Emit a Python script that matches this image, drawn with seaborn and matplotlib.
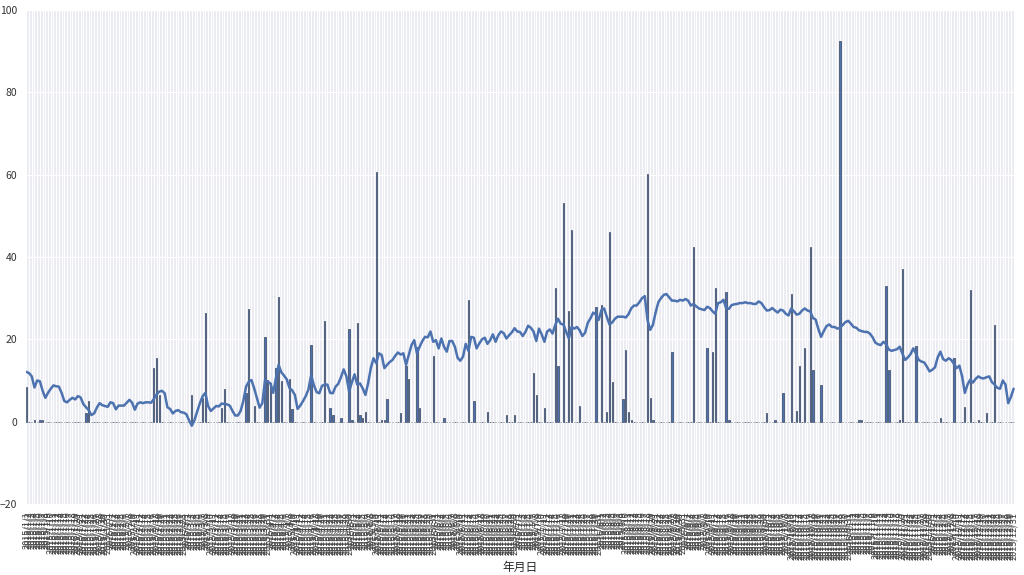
import matplotlib
matplotlib.use("Agg")
import matplotlib.pyplot as plt
import numpy as np
import pandas as pd
import seaborn as sns

# 日平均気温 (月ごと)
temp_jan = [12.1, 11.8, 11.0, 8.3, 10.0, 9.8, 7.5, 5.8, 7.0, 8.0, 8.8, 8.6, 8.5, 7.0, 5.0, 4.7,
            5.3, 5.8, 5.4, 6.2, 5.9, 4.3, 3.5, 2.8, 1.6, 2.0, 3.4, 4.5, 4.0, 3.8, 3.6]
temp_feb = [4.7, 4.5, 3.0, 3.9, 3.9, 3.9, 4.6, 5.3, 4.6, 2.9, 4.4, 4.7, 4.5, 4.7, 4.7, 4.6,
            5.5, 6.6, 7.3, 7.5, 6.9, 3.5, 3.1, 2.0, 2.6, 2.8, 2.3, 2.2]
temp_mar = [1.8, 0.3, -1.0, 0.4, 2.5, 4.5, 6.2, 7.0, 3.8, 2.6, 3.2, 3.8, 3.7, 4.4, 4.3, 4.2,
            3.9, 2.6, 1.5, 1.5, 2.6, 5.0, 8.5, 9.7, 10.1, 8.1, 5.7, 3.4, 4.5, 10.1, 9.7]
temp_apr = [9.3, 7.0, 10.5, 13.8, 12.0, 11.2, 10.3, 8.2, 7.6, 6.5, 3.1, 3.9, 5.0, 6.2, 7.8,
            11.3, 8.9, 7.2, 6.9, 8.7, 9.0, 9.0, 7.0, 6.9, 8.5, 9.2, 10.8, 12.7, 11.0, 7.3]
temp_may = [9.5, 11.5, 9.0, 9.3, 8.1, 6.5, 9.3, 13.0, 15.4, 14.2, 16.6, 16.2, 13.0, 13.8, 14.5,
            15.0, 16.0, 16.8, 16.3, 16.6, 13.8, 16.2, 18.6, 19.8, 16.6, 18.2, 19.6, 20.6, 20.5,
            21.9, 19.4]
temp_jun = [19.8, 17.8, 20.2, 18.2, 17.0, 19.6, 19.6, 18.2, 15.5, 14.8, 15.8, 18.9, 17.2, 20.6,
            20.4, 17.8, 19.0, 20.0, 20.4, 18.9, 19.8, 21.2, 19.4, 21.0, 21.9, 21.5, 20.2, 21.0,
            21.7, 22.7]
temp_jul = [21.9, 21.8, 20.8, 21.8, 23.3, 22.8, 21.9, 19.6, 22.6, 21.2, 19.4, 21.9, 22.4, 21.4,
            23.5, 25.0, 23.8, 23.6, 21.9, 20.2, 23.0, 22.6, 23.0, 22.2, 20.8, 21.6, 24.0, 25.1,
            26.5, 26.0, 24.7]
temp_aug = [27.1, 27.5, 25.5, 23.6, 24.1, 25.0, 25.5, 25.5, 25.5, 25.3, 26.1, 27.5, 28.2, 28.2,
            29.0, 30.0, 30.5, 24.7, 22.3, 23.5, 26.5, 29.0, 30.0, 30.8, 31.0, 30.2, 29.4, 29.4,
            29.2, 29.6, 29.4]
temp_sep = [29.8, 29.4, 28.2, 28.6, 28.0, 27.5, 27.3, 27.1, 27.9, 27.6, 26.8, 26.2, 28.8, 29.0,
            29.6, 27.6, 27.4, 28.3, 28.5, 28.6, 28.8, 28.8, 29.0, 28.8, 28.8, 28.6, 28.6, 29.2,
            28.8, 27.8]
temp_oct = [27.0, 27.1, 27.6, 27.0, 26.5, 27.2, 27.0, 26.2, 25.8, 27.5, 26.8, 26.0, 26.2, 27.0,
            27.5, 27.0, 26.8, 25.2, 24.8, 22.5, 20.6, 22.0, 23.2, 23.6, 23.0, 23.0, 22.6, 22.8,
            23.5, 24.2, 24.5]
temp_nov = [23.8, 23.0, 22.8, 22.2, 22.0, 21.8, 21.8, 21.4, 20.5, 19.2, 18.8, 18.6, 19.4, 18.8,
            17.5, 17.2, 17.4, 17.6, 18.2, 16.5, 15.0, 15.6, 16.4, 17.8, 16.5, 15.0, 14.6, 14.4,
            13.4, 12.2]
temp_dec = [12.6, 13.2, 15.6, 17.0, 15.2, 14.8, 15.4, 15.0, 14.0, 13.0, 13.6, 11.0, 7.0, 9.0,
            10.2, 9.5, 10.4, 11.0, 10.6, 10.5, 10.8, 11.0, 9.6, 9.0, 8.2, 8.0, 10.0, 9.0, 4.5,
            6.0, 8.0]

# 降水量 (降水のあった日の通し番号と量, 他の日は 0)
rain_days = [0, 3, 5, 6, 22, 23, 47, 48, 49, 61, 65, 66, 72, 73, 81, 82, 84, 88, 89, 90,
             92, 93, 94, 97, 98, 105, 110, 112, 113, 116, 119, 120, 122, 123, 124, 125,
             129, 131, 132, 133, 138, 140, 141, 144, 145, 150, 154, 163, 165, 170, 177, 180,
             187, 188, 191, 195, 196, 198, 200, 201, 204, 210, 212, 214, 215, 216, 220, 221,
             222, 223, 229, 230, 231, 238, 246, 251, 253, 254, 258, 259, 273, 276, 279, 282,
             284, 285, 287, 289, 290, 293, 300, 307, 308, 317, 318, 322, 323, 328, 337, 342,
             346, 348, 351, 354, 357]
rain_mm = [8.4, 0.5, 0.5, 0.5, 2.0, 5.0, 13.0, 15.5, 6.5, 6.5, 5.7, 26.5, 3.2, 7.9, 7.0, 27.4,
           3.9, 20.5, 10.1, 9.5, 13.0, 30.4, 9.9, 10.3, 3.1, 18.6, 24.5, 3.4, 1.5, 0.8, 22.4,
           0.4, 23.9, 1.5, 1.0, 2.4, 60.6, 0.5, 0.5, 5.4, 2.0, 13.4, 10.4, 18.2, 3.4, 16.0,
           0.8, 29.6, 5.0, 2.4, 1.6, 1.6, 11.9, 6.5, 3.4, 32.4, 13.4, 53.0, 27.0, 46.5, 3.9,
           27.9, 28.3, 2.4, 46.0, 9.6, 5.4, 17.4, 2.4, 0.5, 60.2, 5.8, 0.5, 17.0, 42.5, 18.0,
           17.0, 32.5, 31.5, 0.5, 2.0, 0.5, 7.0, 31.0, 2.5, 13.5, 18.0, 42.5, 12.5, 9.0, 92.5,
           0.5, 0.5, 33.0, 12.5, 0.5, 37.0, 18.5, 1.0, 15.5, 3.5, 32.0, 0.5, 2.0, 23.5]

temp = np.array(temp_jan + temp_feb + temp_mar + temp_apr + temp_may + temp_jun +
                temp_jul + temp_aug + temp_sep + temp_oct + temp_nov + temp_dec)
dates = pd.date_range("2015-01-01", periods=len(temp), freq="D")
labels = [f"{d.year}/{d.month}/{d.day}" for d in dates]
rain = np.zeros(len(temp))
rain[rain_days] = rain_mm

sns.set_style("darkgrid")
plt.rcParams["font.family"] = ["Noto Sans CJK JP", "DejaVu Sans"]

fig, ax = plt.subplots(figsize=(10.24, 5.75), dpi=100)
fig.subplots_adjust(left=0.0244, right=0.9912, top=0.9826, bottom=0.1235)

sns.barplot(x=labels, y=rain, color="#4C72B0", saturation=1, width=0.5,
            edgecolor="#36445e", linewidth=0.5, ax=ax)
sns.lineplot(x=np.arange(len(temp)), y=temp, color="#4C72B0", linewidth=1.8, ax=ax)

ax.xaxis.grid(True)
ax.set_xlim(-0.5, len(temp) - 0.5)
ax.set_ylim(-20, 100)
ax.set_yticks(range(-20, 101, 20))
ax.tick_params(axis="x", labelrotation=90, labelsize=6.6, pad=2, labelcolor="#444444")
ax.tick_params(axis="y", labelsize=7.5, pad=2, labelcolor="#333333")
ax.set_xlabel("年月日", fontsize=8.5, labelpad=1)
ax.set_ylabel("")

fig.savefig("out.png", dpi=100)
